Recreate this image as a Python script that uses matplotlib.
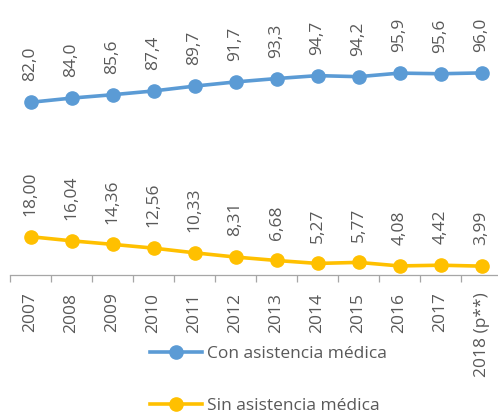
import matplotlib
matplotlib.use("Agg")
import matplotlib.pyplot as plt
from matplotlib.lines import Line2D

years = ["2007", "2008", "2009", "2010", "2011", "2012", "2013", "2014",
         "2015", "2016", "2017", "2018 (p**)"]
con_asistencia = [82.0, 84.0, 85.6, 87.4, 89.7, 91.7, 93.3, 94.7, 94.2, 95.9, 95.6, 96.0]
sin_asistencia = [18.00, 16.04, 14.36, 12.56, 10.33, 8.31, 6.68, 5.27, 5.77, 4.08, 4.42, 3.99]
con_labels = ["82,0", "84,0", "85,6", "87,4", "89,7", "91,7", "93,3", "94,7", "94,2", "95,9", "95,6", "96,0"]
sin_labels = ["18,00", "16,04", "14,36", "12,56", "10,33", "8,31", "6,68", "5,27", "5,77", "4,08", "4,42", "3,99"]

BLUE = "#5B9BD5"
YELLOW = "#FFC000"
TXT = "#595959"
AX = "#A6A6A6"
FONT = "Open Sans"
FS = 12.5

W, H = 498, 415
fig = plt.figure(figsize=(W / 100, H / 100), dpi=100)
left, right, top, bottom = 10, 502, 0, 274.5
ax = fig.add_axes([left / W, 1 - bottom / H, (right - left) / W, (bottom - top) / H])
ax.set_xlim(-0.5, len(years) - 0.5)
ax.set_ylim(0, 274.5 / 2.1)

x = list(range(len(years)))
ax.plot(x, con_asistencia, color=BLUE, lw=2.6, marker="o", ms=9.5, clip_on=False,
        solid_capstyle="round")
ax.plot(x, sin_asistencia, color=YELLOW, lw=2.6, marker="o", ms=9.5, clip_on=False,
        solid_capstyle="round")

for xi, v, s in zip(x, con_asistencia, con_labels):
    ax.annotate(s, (xi, v), xytext=(0, 15), textcoords="offset points", rotation=90,
                ha="center", va="bottom", fontsize=FS, color=TXT, family=FONT)
for xi, v, s in zip(x, sin_asistencia, sin_labels):
    ax.annotate(s, (xi, v), xytext=(0, 15), textcoords="offset points", rotation=90,
                ha="center", va="bottom", fontsize=FS, color=TXT, family=FONT)

for sp in ["left", "right", "top"]:
    ax.spines[sp].set_visible(False)
ax.spines["bottom"].set_color(AX)
ax.spines["bottom"].set_linewidth(0.9)
ax.set_yticks([])
ax.set_xticks([i - 0.5 for i in range(len(years) + 1)])
ax.set_xticklabels([])
ax.tick_params(axis="x", which="major", length=5, color=AX, width=0.9, direction="out")
ax.set_xticks(x, minor=True)
ax.set_xticklabels(years, minor=True, rotation=90, fontsize=FS, color=TXT, family=FONT,
                   va="top")
ax.tick_params(axis="x", which="minor", length=0, pad=13)

h1 = Line2D([], [], color=BLUE, lw=2.6, marker="o", ms=9.5)
h2 = Line2D([], [], color=YELLOW, lw=2.6, marker="o", ms=9.5)
leg = fig.legend([h1, h2], ["Con asistencia médica", "Sin asistencia médica"],
                 loc="upper left", bbox_to_anchor=(150 / W, 1 - 346 / H),
                 frameon=False, handlelength=3.0, handletextpad=0.3,
                 labelspacing=2.05, borderpad=0, borderaxespad=0,
                 prop={"family": FONT, "size": FS})
for t in leg.get_texts():
    t.set_color(TXT)

fig.savefig("out.png", dpi=100)
